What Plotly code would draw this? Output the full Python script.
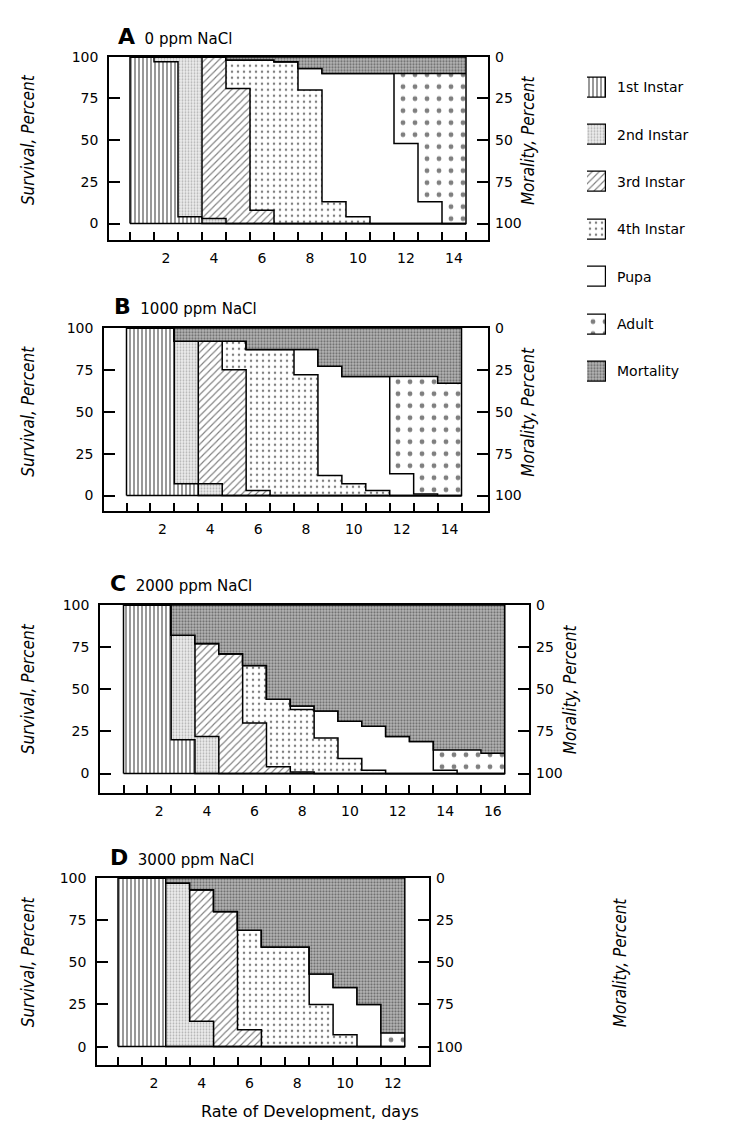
import plotly.graph_objects as go

STAGES = ["1st Instar", "2nd Instar", "3rd Instar", "4th Instar", "Pupa", "Adult", "Mortality"]

# ---------------- data (percent of cohort in each stage, per day) ----------------
# Panel A : 0 ppm NaCl
A_DAYS = list(range(1, 15))
A_INST1 = [100, 97, 4, 0, 0, 0, 0, 0, 0, 0, 0, 0, 0, 0]
A_INST2 = [0, 3, 96, 3, 0, 0, 0, 0, 0, 0, 0, 0, 0, 0]
A_INST3 = [0, 0, 0, 97, 81, 8, 0, 0, 0, 0, 0, 0, 0, 0]
A_INST4 = [0, 0, 0, 0, 17, 90, 97, 80, 13, 4, 0, 0, 0, 0]
A_PUPA = [0, 0, 0, 0, 0, 0, 0, 13, 77, 86, 90, 48, 13, 0]
A_ADULT = [0, 0, 0, 0, 0, 0, 0, 0, 0, 0, 0, 42, 77, 90]
A_MORT = [0, 0, 0, 0, 2, 2, 3, 7, 10, 10, 10, 10, 10, 10]

# Panel B : 1000 ppm NaCl
B_DAYS = list(range(1, 15))
B_INST1 = [100, 100, 7, 0, 0, 0, 0, 0, 0, 0, 0, 0, 0, 0]
B_INST2 = [0, 0, 85, 7, 0, 0, 0, 0, 0, 0, 0, 0, 0, 0]
B_INST3 = [0, 0, 0, 85, 75, 3, 0, 0, 0, 0, 0, 0, 0, 0]
B_INST4 = [0, 0, 0, 0, 17, 84, 87, 72, 12, 7, 3, 0, 0, 0]
B_PUPA = [0, 0, 0, 0, 0, 0, 0, 15, 65, 64, 68, 13, 1, 0]
B_ADULT = [0, 0, 0, 0, 0, 0, 0, 0, 0, 0, 0, 58, 70, 67]
B_MORT = [0, 0, 8, 8, 8, 13, 13, 13, 23, 29, 29, 29, 29, 33]

# Panel C : 2000 ppm NaCl
C_DAYS = list(range(1, 17))
C_INST1 = [100, 100, 20, 0, 0, 0, 0, 0, 0, 0, 0, 0, 0, 0, 0, 0]
C_INST2 = [0, 0, 62, 22, 0, 0, 0, 0, 0, 0, 0, 0, 0, 0, 0, 0]
C_INST3 = [0, 0, 0, 55, 71, 30, 4, 1, 0, 0, 0, 0, 0, 0, 0, 0]
C_INST4 = [0, 0, 0, 0, 0, 34, 40, 37, 21, 9, 2, 0, 0, 0, 0, 0]
C_PUPA = [0, 0, 0, 0, 0, 0, 0, 2, 16, 22, 26, 22, 19, 2, 0, 0]
C_ADULT = [0, 0, 0, 0, 0, 0, 0, 0, 0, 0, 0, 0, 0, 12, 14, 12]
C_MORT = [0, 0, 18, 23, 29, 36, 56, 60, 63, 69, 72, 78, 81, 86, 86, 88]

# Panel D : 3000 ppm NaCl
D_DAYS = list(range(1, 13))
D_INST1 = [100, 100, 0, 0, 0, 0, 0, 0, 0, 0, 0, 0]
D_INST2 = [0, 0, 97, 15, 0, 0, 0, 0, 0, 0, 0, 0]
D_INST3 = [0, 0, 0, 78, 80, 10, 0, 0, 0, 0, 0, 0]
D_INST4 = [0, 0, 0, 0, 0, 59, 59, 59, 25, 7, 0, 0]
D_PUPA = [0, 0, 0, 0, 0, 0, 0, 0, 18, 28, 25, 0]
D_ADULT = [0, 0, 0, 0, 0, 0, 0, 0, 0, 0, 0, 8]
D_MORT = [0, 0, 3, 7, 20, 31, 41, 41, 57, 65, 75, 92]

PANEL_LETTERS = ["A", "B", "C", "D"]
PANEL_TITLES = ["0 ppm NaCl", "1000 ppm NaCl", "2000 ppm NaCl", "3000 ppm NaCl"]
PANEL_DAYS = [A_DAYS, B_DAYS, C_DAYS, D_DAYS]
PANEL_SERIES = [
    [A_INST1, A_INST2, A_INST3, A_INST4, A_PUPA, A_ADULT, A_MORT],
    [B_INST1, B_INST2, B_INST3, B_INST4, B_PUPA, B_ADULT, B_MORT],
    [C_INST1, C_INST2, C_INST3, C_INST4, C_PUPA, C_ADULT, C_MORT],
    [D_INST1, D_INST2, D_INST3, D_INST4, D_PUPA, D_ADULT, D_MORT],
]
PCT_TICKS = [0, 25, 50, 75, 100]

# ---------------- styling ----------------
W, H = 750, 1123
FONT = "DejaVu Sans"
ITAL = "Liberation Sans Narrow, DejaVu Sans Condensed, Liberation Sans"
LINE = 1.5


def fx(p):
    return p / W


def fy(p):
    return 1 - p / H


PATTERNS = [
    dict(shape="|", size=4, solidity=0.4, fgcolor="black", bgcolor="white"),
    dict(shape=".", size=3, solidity=0.3, fgcolor="#777777", bgcolor="#ececec"),
    dict(shape="/", size=5, solidity=0.22, fgcolor="black", bgcolor="white"),
    dict(shape=".", size=6, solidity=0.14, fgcolor="black", bgcolor="white"),
    dict(shape="", fgcolor="black", bgcolor="white"),
    dict(shape=".", size=12, solidity=0.13, fgcolor="black", bgcolor="white"),
    dict(shape=".", size=3, solidity=0.42, fgcolor="#1a1a1a", bgcolor="#b6b6b6"),
]
FILLS = ["white", "#ececec", "white", "white", "white", "white", "#b6b6b6"]

# pixel geometry: left, right, top(100%), zero, bottom frame, px of x=1, px per day
GEOM = [
    (101, 480, 41, 209, 226, 122, 24.0),
    (96, 480, 314, 483, 499, 118.5, 23.93),
    (92, 521, 593, 763, 783, 115.5, 23.83),
    (89, 421, 868, 1038, 1057, 110, 23.9),
]
TITLE_POS = [(108, 21), (104, 293), (100, 572), (100, 848)]
RIGHT_TITLE_X = [520, 520, 562, 612]
XTITLE_Y = 1103

fig = go.Figure()
layout = dict(
    width=W, height=H, margin=dict(l=0, r=0, t=0, b=0),
    paper_bgcolor="white", plot_bgcolor="white", showlegend=False,
    font=dict(family=FONT, size=14, color="black"),
)
annotations = []

for i in range(4):
    n = i + 1
    xa, ya = f"x{n}", f"y{n}"
    left, right, top, zero, bottom, x1px, unit = GEOM[i]
    days = PANEL_DAYS[i]
    xs = days + [days[-1] + 1]
    for s, vals in enumerate(PANEL_SERIES[i]):
        fig.add_trace(go.Scatter(
            x=xs, y=vals + [vals[-1]], mode="lines",
            line=dict(shape="hv", color="black", width=LINE),
            stackgroup=f"g{n}", fillcolor=FILLS[s], fillpattern=PATTERNS[s],
            name=STAGES[s], hoverinfo="skip", xaxis=xa, yaxis=ya,
        ))
    x0, x1 = days[0], days[-1] + 1
    fig.add_trace(go.Scatter(
        x=[x0, x0, x1, x1, x0], y=[0, 100, 100, 0, 0], mode="lines",
        line=dict(color="black", width=LINE), hoverinfo="skip",
        xaxis=xa, yaxis=ya,
    ))
    # right-hand (mortality) axis carrier
    fig.add_trace(go.Scatter(x=[x0], y=[None], mode="lines", hoverinfo="skip",
                             xaxis=xa, yaxis=f"y{n + 4}"))

    xr = [1 + (left - x1px) / unit, 1 + (right - x1px) / unit]
    ppu = (zero - top) / 100
    ymin = -(bottom - zero) / ppu
    lab = [d for d in xs if d % 2 == 0 and d < x1]
    xkey = "xaxis" if n == 1 else f"xaxis{n}"
    ykey = "yaxis" if n == 1 else f"yaxis{n}"
    layout[xkey] = dict(
        domain=[fx(left), fx(right)], anchor=ya, range=xr,
        tickmode="array", tickvals=[d + 0.5 for d in lab], ticktext=[str(d) for d in lab],
        ticks="", showline=True, mirror=True, linecolor="black", linewidth=LINE,
        showgrid=False, zeroline=False, ticklabelstandoff=4,
        tickfont=dict(size=14),
        minor=dict(tickmode="array", tickvals=xs, ticks="inside", ticklen=9,
                   tickcolor="black", tickwidth=LINE, showgrid=False),
    )
    layout[ykey] = dict(
        domain=[fy(bottom), fy(top)], anchor=xa, range=[ymin, 100],
        tickmode="array", tickvals=PCT_TICKS, ticktext=[str(t) for t in PCT_TICKS],
        ticks="inside", ticklen=11, tickwidth=LINE, tickcolor="black",
        showline=True, mirror=True, linecolor="black", linewidth=LINE,
        showgrid=False, zeroline=False, ticklabelstandoff=6,
        tickfont=dict(size=14),
    )
    layout[f"yaxis{n + 4}"] = dict(
        overlaying=ya, anchor=xa, side="right", range=[100 - ymin, 0],
        tickmode="array", tickvals=PCT_TICKS, ticktext=[str(t) for t in PCT_TICKS],
        ticks="inside", ticklen=11, tickwidth=LINE, tickcolor="black",
        showline=False, showgrid=False, zeroline=False, ticklabelstandoff=6,
        tickfont=dict(size=14),
    )
    # panel title
    tx, ty = TITLE_POS[i]
    annotations.append(dict(
        x=fx(tx), y=fy(ty), xref="paper", yref="paper", xanchor="left", yanchor="middle",
        text=f"<span style='font-size:22px'><b>{PANEL_LETTERS[i]}</b></span>  {PANEL_TITLES[i]}",
        showarrow=False, font=dict(family=FONT, size=15),
    ))
    yc = (top + zero) / 2
    annotations.append(dict(
        x=fx(20), y=fy(yc), xref="paper", yref="paper", xanchor="center", yanchor="middle",
        text="<i>Survival, Percent</i>", textangle=-90, showarrow=False,
        font=dict(family=ITAL, size=17),
    ))
    annotations.append(dict(
        x=fx(RIGHT_TITLE_X[i]), y=fy(yc), xref="paper", yref="paper", xanchor="center",
        yanchor="middle", text="<i>Morality, Percent</i>", textangle=-90, showarrow=False,
        font=dict(family=ITAL, size=17),
    ))

annotations.append(dict(
    x=fx(302), y=fy(XTITLE_Y), xref="paper", yref="paper", xanchor="center", yanchor="middle",
    text="Rate of Development, days", showarrow=False, font=dict(family=FONT, size=16),
))

# legend drawn as a small subplot of pattern swatches
LEG_TOP, LEG_BOT = 48, 382
for s in range(len(STAGES)):
    fig.add_trace(go.Bar(
        x=[1], y=[STAGES[s]], orientation="h", width=0.42,
        marker=dict(color=FILLS[s], pattern=PATTERNS[s], line=dict(color="black", width=1.2)),
        hoverinfo="skip", xaxis="x5", yaxis="y9",
    ))
layout["xaxis5"] = dict(domain=[fx(579), fx(598)], anchor="y9", range=[0, 1],
                        visible=False, fixedrange=True)
layout["yaxis9"] = dict(domain=[fy(LEG_BOT), fy(LEG_TOP)], anchor="x5", side="right",
                        type="category", categoryorder="array", categoryarray=STAGES,
                        autorange="reversed", showline=False, ticks="", showgrid=False,
                        ticklabelstandoff=10, tickfont=dict(size=14))
layout["annotations"] = annotations
layout["bargap"] = 0
fig.update_layout(**layout)
fig.write_html("out.html")
